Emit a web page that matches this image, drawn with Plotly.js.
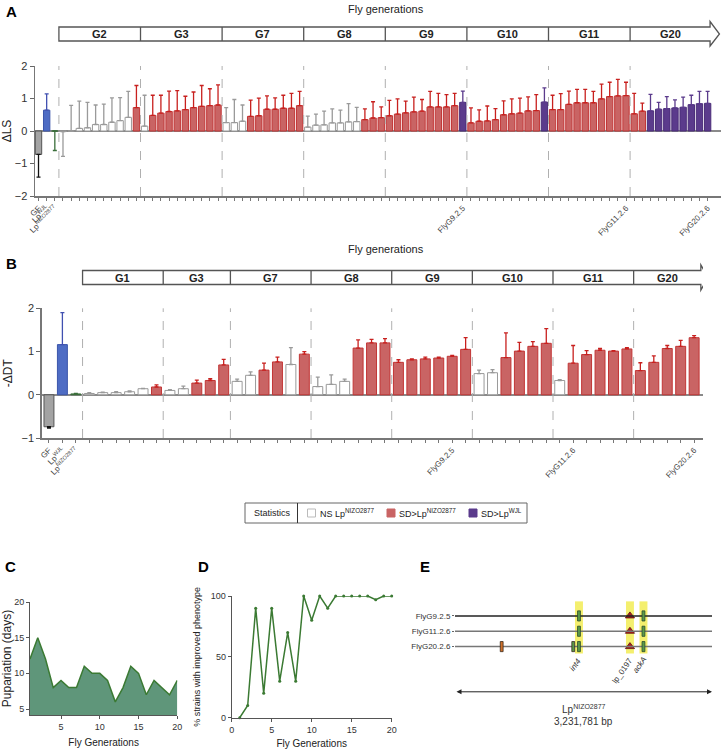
<!DOCTYPE html>
<html>
<head>
<meta charset="utf-8">
<script src="https://cdn.plot.ly/plotly-3.0.1.min.js"></script>
<style>
  html, body { margin: 0; padding: 0; background: #fff; }
  #fig { width: 722px; height: 749px; }
</style>
</head>
<body>
<div id="fig"></div>
<script>
// Panel A: ΔLS per strain (controls + 80 evolved strains)
const ctrlNames = ['GF', 'Lp<sup>WJL</sup>', 'Lp<sup>NIZO2877</sup>'];
const lsCtrlMean = [-0.72, 0.64, 0];
const lsCtrlWhisk = [-1.42, 1.14, -0.6];
const gensA = ['G2', 'G3', 'G7', 'G8', 'G9', 'G10', 'G11', 'G20'];
const sizesA = [10, 10, 10, 10, 10, 10, 10, 10];
const lsMean = [
  -0.02, 0.0, 0.08, 0.1, 0.2, 0.2, 0.27, 0.32, 0.42, 0.72,
  0.15, 0.48, 0.55, 0.6, 0.62, 0.66, 0.72, 0.76, 0.78, 0.8,
  0.26, 0.26, 0.3, 0.45, 0.47, 0.67, 0.67, 0.7, 0.7, 0.78,
  0.12, 0.18, 0.19, 0.25, 0.25, 0.28, 0.29, 0.35, 0.4, 0.41,
  0.47, 0.52, 0.56, 0.59, 0.61, 0.74, 0.74, 0.74, 0.78, 0.88,
  0.25, 0.3, 0.31, 0.35, 0.5, 0.53, 0.55, 0.62, 0.63, 0.89,
  0.66, 0.66, 0.82, 0.87, 0.87, 0.87, 0.99, 1.06, 1.08, 1.09,
  0.53, 0.61, 0.62, 0.67, 0.69, 0.71, 0.73, 0.81, 0.84, 0.85
];
const lsWhisk = [
  -0.78, 0.79, 0.92, 0.88, 0.8, 0.83, 1.02, 1.03, 1.22, 1.4,
  1.1, 1.1, 1.1, 1.23, 1.24, 1.07, 1.2, 1.4, 1.3, 1.42,
  0.72, 0.97, 0.8, 0.95, 1.01, 1.08, 1.02, 1.1, 1.16, 1.22,
  0.46, 0.52, 0.61, 0.68, 0.64, 0.84, 0.73, 0.68, 0.9, 0.74,
  0.94, 0.99, 0.92, 1.04, 0.97, 1.22, 1.16, 1.12, 1.16, 1.23,
  0.71, 0.65, 0.77, 0.69, 0.93, 0.99, 1.01, 1.05, 1.12, 1.33,
  1.1, 1.15, 1.23, 1.28, 1.28, 1.22, 1.44, 1.5, 1.59, 1.5,
  1.16, 0.86, 1.13, 0.88, 1.06, 0.96, 1.04, 1.1, 1.22, 1.22
];
// N = not significant, S = SD > LpNIZO2877, W = SD > LpWJL
const lsStat = ('NNNNNNNNNS' + 'NSSSSSSSSS' + 'NNNSSSSSSS' + 'NNNNNNNSSS' +
                'SSSSSSSSSW' + 'SSSSSSSSSW' + 'SSSSSSSSSS' + 'SSWWWWWWWW').split('');
const lsNamed = {52: 'FlyG9.2.5', 72: 'FlyG11.2.6', 82: 'FlyG20.2.6'};

// Panel B: -ΔDT per strain
const dtCtrlMean = [-0.74, 1.16, 0.02];
const dtCtrlWhisk = [-0.77, 1.9, 0.03];
const gensB = ['G1', 'G3', 'G7', 'G8', 'G9', 'G10', 'G11', 'G20'];
const sizesB = [6, 5, 6, 6, 6, 6, 6, 5];
const dtMean = [
  0.03, 0.05, 0.05, 0.07, 0.14, 0.18,
  0.1, 0.14, 0.27, 0.33, 0.69,
  0.31, 0.45, 0.57, 0.76, 0.7, 0.94,
  0.19, 0.24, 0.31, 1.08, 1.2, 1.2,
  0.75, 0.81, 0.83, 0.85, 0.89, 1.05,
  0.49, 0.51, 0.86, 1.01, 1.12, 1.19,
  0.33, 0.73, 0.93, 1.03, 1.01, 1.06,
  0.56, 0.75, 1.07, 1.12, 1.32
];
const dtWhisk = [
  0.05, 0.06, 0.07, 0.09, 0.15, 0.23,
  0.12, 0.2, 0.34, 0.37, 0.82,
  0.36, 0.53, 0.73, 0.87, 1.09, 1.0,
  0.41, 0.46, 0.36, 1.27, 1.28, 1.3,
  0.81, 0.83, 0.87, 0.87, 0.91, 1.32,
  0.57, 0.58, 1.43, 1.21, 1.23, 1.53,
  0.35, 1.14, 1.02, 1.07, 1.02, 1.09,
  0.74, 0.9, 1.14, 1.26, 1.37
];
const dtStat = ('NNNNNS' + 'NNSSS' + 'NNSSNS' + 'NNNSSS' + 'SSSSSS' +
                'NNSSSS' + 'NSSSSS' + 'SSSSS').split('');
const dtNamed = {30: 'FlyG9.2.5', 39: 'FlyG11.2.6', 48: 'FlyG20.2.6'};

// Panel C / D
const flyGen = [1, 2, 3, 4, 5, 6, 7, 8, 9, 10, 11, 12, 13, 14, 15, 16, 17, 18, 19, 20];
const pupDays = [12, 15, 12, 8, 9, 8, 8, 11, 10, 10, 9, 6, 8, 11, 10, 7, 9, 8, 7, 9];
const pctImproved = [0, 10, 90, 20, 90, 30, 70, 30, 100, 80, 100, 90, 100, 100, 100, 100, 100, 97, 100, 100];

// Panel E: mutations on the genome
const genomeLen = 3231781;
const strainsE = ['FlyG9.2.5', 'FlyG11.2.6', 'FlyG20.2.6'];
const sharedGenes = ['int4', 'lp_0197', 'ackA'];
const sharedPos = [1559000, 2200000, 2370000];
const sharedKind = ['snv', 'ins', 'snv'];
const extraPos = [587000, 1487000];
const extraColor = ['#d0702a', '#5a9a4a'];

const W = 722, H = 749;
const px = v => v / W;
const py = v => 1 - v / H;
const FONT = 'Liberation Sans, Arial, sans-serif';
const NARROW = 'Liberation Sans Narrow, Liberation Sans, Arial, sans-serif';

const style = {
  N: {name: 'NS Lp<sup>NIZO2877</sup>', fill: '#ffffff', line: '#9a9a9a', err: '#9a9a9a'},
  S: {name: 'SD&gt;Lp<sup>NIZO2877</sup>', fill: '#c96464', line: '#c23535', err: '#c8201e'},
  W: {name: 'SD&gt;Lp<sup>WJL</sup>', fill: '#5b3b8c', line: '#4a2d78', err: '#5b3b8c'}
};
const ctrlStyle = [
  {fill: '#a3a3a3', line: '#555555', err: '#111111'},
  {fill: '#4e6cc4', line: '#3b55aa', err: '#4050b0'},
  {fill: '#3a6e3a', line: '#3a6e3a', err: '#3a6e3a'}
];

function errBars(mean, whisk, color) {
  return {
    type: 'data', symmetric: false,
    array: mean.map((m, i) => Math.max(whisk[i] - m, 0)),
    arrayminus: mean.map((m, i) => Math.max(m - whisk[i], 0)),
    color: color, thickness: 1.3, width: 2
  };
}

function barPanel(ctrlMean, ctrlWhisk, mean, whisk, stat, xa, ya, bw) {
  const traces = [];
  ctrlMean.forEach((m, i) => {
    traces.push({
      type: 'bar', x: [i], y: [m], xaxis: xa, yaxis: ya, width: bw,
      marker: {color: ctrlStyle[i].fill, line: {color: ctrlStyle[i].line, width: 1}},
      error_y: errBars([m], [ctrlWhisk[i]], ctrlStyle[i].err),
      showlegend: false, hoverinfo: 'skip'
    });
  });
  ['N', 'S', 'W'].forEach(code => {
    const idx = stat.map((s, i) => s === code ? i : -1).filter(i => i >= 0);
    if (!idx.length) return;
    const m = idx.map(i => mean[i]);
    const w = idx.map(i => whisk[i]);
    traces.push({
      type: 'bar', name: style[code].name,
      x: idx.map(i => i + 3), y: m, xaxis: xa, yaxis: ya, width: bw,
      marker: {color: style[code].fill, line: {color: style[code].line, width: 1}},
      error_y: errBars(m, w, style[code].err),
      showlegend: false, hoverinfo: 'skip'
    });
  });
  return traces;
}

function tickSet(n, named) {
  const vals = [], text = [];
  for (let i = 0; i < n; i++) {
    vals.push(i);
    if (i < 3) text.push(ctrlNames[i]);
    else text.push(named[i] || '');
  }
  return {vals, text};
}

// generation header arrow, separators and dashed lines
function header(xref, gens, sizes, box, domainPx) {
  const shapes = [], ann = [];
  const yT = py(box.top), yB = py(box.bot), yM = py((box.top + box.bot) / 2);
  shapes.push({
    type: 'path', xref: xref, yref: 'paper',
    path: `M ${2.5},${yT} L ${box.base},${yT} L ${box.base},${py(box.headTop)} L ${box.tip},${yM} ` +
          `L ${box.base},${py(box.headBot)} L ${box.base},${yB} L ${2.5},${yB} Z`,
    line: {color: '#555', width: 1.3}, fillcolor: 'rgba(0,0,0,0)'
  });
  let start = 2.5;
  gens.forEach((g, k) => {
    if (k > 0) {
      shapes.push({type: 'line', xref: xref, yref: 'paper', x0: start, x1: start, y0: yT, y1: yB,
                   line: {color: '#555', width: 1.3}});
    }
    shapes.push({type: 'line', xref: xref, yref: 'paper', x0: start, x1: start,
                 y0: py(domainPx[1]), y1: py(domainPx[0]),
                 line: {color: '#b0b0b0', width: 1, dash: 'dash'}});
    ann.push({xref: xref, yref: 'paper', x: start + sizes[k] / 2, y: yM, xanchor: 'center', yanchor: 'middle',
              text: '<b>' + g + '</b>', showarrow: false, font: {size: 11, color: '#222', family: FONT}});
    start += sizes[k];
  });
  return {shapes, ann};
}

const traces = [
  ...barPanel(lsCtrlMean, lsCtrlWhisk, lsMean, lsWhisk, lsStat, 'x', 'y', 0.78),
  ...barPanel(dtCtrlMean, dtCtrlWhisk, dtMean, dtWhisk, dtStat, 'x2', 'y2', 0.74),
  {
    type: 'scatter', mode: 'lines', x: flyGen, y: pupDays, xaxis: 'x3', yaxis: 'y3',
    fill: 'tozeroy', fillcolor: '#5f967a', line: {color: '#3b7a33', width: 1.5},
    showlegend: false, hoverinfo: 'skip'
  },
  {
    type: 'scatter', mode: 'lines+markers', x: flyGen, y: pctImproved, xaxis: 'x4', yaxis: 'y4',
    line: {color: '#3b7a33', width: 1.5}, marker: {size: 3, color: '#3b7a33'},
    cliponaxis: false, showlegend: false, hoverinfo: 'skip'
  },
  {
    // insertion markers (lp_0197) drawn as triangles
    type: 'scatter', mode: 'markers', xaxis: 'x5', yaxis: 'y5',
    x: strainsE.flatMap(() => sharedPos.filter((p, i) => sharedKind[i] === 'ins')),
    y: strainsE.flatMap((s, r) => sharedPos.filter((p, i) => sharedKind[i] === 'ins').map(() => r)),
    marker: {symbol: 'triangle-up', size: 8, color: '#a82020', line: {color: '#5a1010', width: 0.8}},
    showlegend: false, hoverinfo: 'skip'
  }
];

const hA = header('x', gensA, sizesA,
  {top: 27, bot: 41, headTop: 21.5, headBot: 46, base: 82.3, tip: 83.45}, [66, 196]);
const hB = header('x2', gensB, sizesB,
  {top: 270.5, bot: 284.5, headTop: 265, headBot: 290, base: 48.5, tip: 49.05}, [308.3, 438]);

const shapes = [...hA.shapes, ...hB.shapes];
const annotations = [...hA.ann, ...hB.ann];

// panel E: genome lines, highlights, mutation marks
const geneHalf = 50000;
sharedPos.forEach(p => {
  shapes.push({type: 'rect', xref: 'x5', yref: 'y5', x0: p - geneHalf, x1: p + geneHalf, y0: -0.95, y1: 2.45,
               fillcolor: '#f4ef6e', line: {width: 0}, layer: 'below'});
});
strainsE.forEach((s, r) => {
  shapes.push({type: 'line', xref: 'x5', yref: 'y5', x0: 0, x1: genomeLen, y0: r, y1: r,
               line: {color: r === 0 ? '#222' : '#777', width: 1.5}});
  sharedPos.forEach((p, i) => {
    if (sharedKind[i] !== 'snv') return;
    shapes.push({type: 'rect', xref: 'x5', yref: 'y5', x0: p - 18000, x1: p + 18000, y0: r - 0.33, y1: r + 0.33,
                 fillcolor: '#5a9a4a', line: {color: '#2b4a2b', width: 0.8}});
  });
});
extraPos.forEach((p, i) => {
  shapes.push({type: 'rect', xref: 'x5', yref: 'y5', x0: p - 18000, x1: p + 18000, y0: 2 - 0.33, y1: 2 + 0.33,
               fillcolor: extraColor[i], line: {color: '#3a2a1a', width: 0.8}});
});
const labAng = 55 * Math.PI / 180;
sharedGenes.forEach((g, i) => {
  const half = g.length * 4.6 / 2;
  annotations.push({xref: 'x5', yref: 'y5', x: sharedPos[i], y: 2.7, xanchor: 'center', yanchor: 'middle',
                    xshift: 2 - half * Math.cos(labAng), yshift: -half * Math.sin(labAng),
                    text: g === 'lp_0197' ? g : '<i>' + g + '</i>', textangle: -55, showarrow: false,
                    font: {size: 8, color: '#333', family: FONT}});
});
annotations.push({xref: 'x5', yref: 'y5', axref: 'x5', ayref: 'y5', x: genomeLen, y: 4.95, ax: 0, ay: 4.95,
                  text: '', showarrow: true, arrowhead: 2, arrowside: 'end+start', arrowsize: 1,
                  arrowwidth: 1, arrowcolor: '#222'});
annotations.push({xref: 'x5', yref: 'y5', x: genomeLen / 2, y: 6.1, text: 'Lp<sup>NIZO2877</sup>',
                  showarrow: false, font: {size: 10, color: '#333', family: FONT}});
annotations.push({xref: 'x5', yref: 'y5', x: genomeLen / 2, y: 6.9, text: genomeLen.toLocaleString('en-US') + ' bp',
                  showarrow: false, font: {size: 10, color: '#333', family: FONT}});

// titles and panel letters
[['Fly generations', 9], ['Fly generations', 249]].forEach(([t, y]) => {
  annotations.push({xref: 'paper', yref: 'paper', x: px(386), y: py(y), xanchor: 'center', yanchor: 'middle',
                    text: t, showarrow: false, font: {size: 11, color: '#222', family: FONT}});
});
[['A', 4, 12], ['B', 4, 263], ['C', 3, 566], ['D', 196, 566], ['E', 418, 566]].forEach(([t, x, y]) => {
  annotations.push({xref: 'paper', yref: 'paper', x: px(x), y: py(y), xanchor: 'left', yanchor: 'middle',
                    text: '<b>' + t + '</b>', showarrow: false, font: {size: 15, color: '#000', family: FONT}});
});

// legend box: Statistics | NS | SD>NIZO | SD>WJL
shapes.push({type: 'rect', xref: 'paper', yref: 'paper', x0: px(245), x1: px(527), y0: py(523), y1: py(503),
             line: {color: '#666', width: 1}, fillcolor: 'rgba(0,0,0,0)'});
shapes.push({type: 'line', xref: 'paper', yref: 'paper', x0: px(297.5), x1: px(297.5), y0: py(503), y1: py(523),
             line: {color: '#333', width: 1}});
annotations.push({xref: 'paper', yref: 'paper', x: px(252), y: py(513), xanchor: 'left', yanchor: 'middle',
                  text: 'Statistics', showarrow: false, font: {size: 9, color: '#222', family: FONT}});
[['N', 307.5], ['S', 387], ['W', 469]].forEach(([code, x]) => {
  shapes.push({type: 'rect', xref: 'paper', yref: 'paper', x0: px(x), x1: px(x + 8), y0: py(517), y1: py(509),
               fillcolor: style[code].fill, line: {color: code === 'N' ? '#bbb' : style[code].fill, width: 1}});
  annotations.push({xref: 'paper', yref: 'paper', x: px(x + 10), y: py(513), xanchor: 'left', yanchor: 'middle',
                    text: style[code].name, showarrow: false, font: {size: 9, color: '#222', family: FONT}});
});

const tA = tickSet(83, lsNamed);
const tB = tickSet(49, dtNamed);

function barXAxis(dom, range, t, anchor) {
  return {
    domain: dom, range: range, anchor: anchor, tickmode: 'array', tickvals: t.vals, ticktext: t.text,
    tickangle: -45, ticks: 'outside', ticklen: 3, tickcolor: '#777', showline: true, linecolor: '#777',
    linewidth: 1.5, showgrid: false, zeroline: false, tickfont: {size: 8, color: '#444', family: FONT}
  };
}
function barYAxis(dom, range, vals, title, anchor) {
  return {
    domain: dom, range: range, anchor: anchor, tickvals: vals, ticks: 'outside', ticklen: 4,
    tickcolor: '#666', showline: true, linecolor: '#777', linewidth: 1.5, showgrid: false,
    zeroline: true, zerolinecolor: '#8a8a8a', zerolinewidth: 1.5,
    tickfont: {size: 11, color: '#333', family: FONT},
    title: {text: title, font: {size: 12, color: '#222', family: FONT}, standoff: 6}
  };
}
function smallAxis(dom, range, vals, title, anchor, tsize) {
  return {
    domain: dom, range: range, anchor: anchor, tickvals: vals, ticks: 'outside', ticklen: 3,
    tickcolor: '#555', showline: true, linecolor: '#555', linewidth: 1, showgrid: false, zeroline: false,
    tickfont: {size: 9, color: '#333', family: NARROW},
    title: {text: title, font: {size: tsize, color: '#222', family: NARROW}, standoff: 8}
  };
}

const layout = {
  width: W, height: H,
  margin: {l: 0, r: 0, t: 0, b: 0},
  paper_bgcolor: '#fff', plot_bgcolor: 'rgba(0,0,0,0)',
  font: {family: FONT, color: '#222'},
  barmode: 'overlay',
  showlegend: false,
  xaxis: barXAxis([px(35), px(721)], [-0.43, 83.64], tA, 'y'),
  yaxis: barYAxis([py(196), py(66)], [-2, 2], [-2, -1, 0, 1, 2], 'ΔLS', 'x'),
  xaxis2: barXAxis([px(41.7), px(703)], [-0.54, 48.66], tB, 'y2'),
  yaxis2: barYAxis([py(438), py(308.3)], [-1, 2], [-1, 0, 1, 2], '-ΔDT', 'x2'),
  xaxis3: smallAxis([px(30), px(177.3)], [1, 20], [5, 10, 15, 20], 'Fly Generations', 'y3', 10),
  yaxis3: smallAxis([py(715), py(602)], [4.16, 20], [5, 10, 15, 20], 'Pupariation (days)', 'x3', 12),
  xaxis4: smallAxis([px(231.7), px(391.7)], [0, 20], [0, 5, 10, 15, 20], 'Fly Generations', 'y4', 10),
  yaxis4: smallAxis([py(717.7), py(596)], [0, 100], [0, 50, 100], '% strains with improved phenotype', 'x4', 9),
  xaxis5: {domain: [px(455), px(712)], range: [0, genomeLen], anchor: 'y5', visible: false},
  yaxis5: {
    domain: [py(726), py(596)], range: [7.18, -1.3], anchor: 'x5', tickmode: 'array',
    tickvals: [0, 1, 2], ticktext: strainsE, ticks: 'outside', ticklen: 2, tickcolor: '#666',
    showline: false, showgrid: false, zeroline: false, tickfont: {size: 8, color: '#333', family: FONT}
  },
  shapes: shapes,
  annotations: annotations
};

Plotly.newPlot('fig', traces, layout, {displayModeBar: false, staticPlot: true});
</script>
</body>
</html>
